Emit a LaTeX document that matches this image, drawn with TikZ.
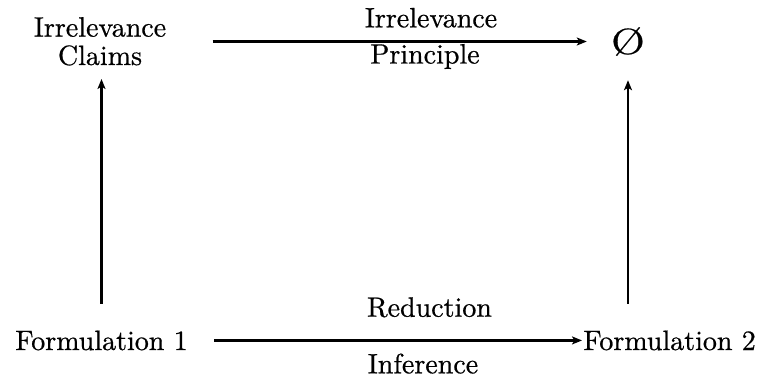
\documentclass[tikz,border=0pt]{standalone}
\usepackage{fontspec}
\usetikzlibrary{arrows.meta}

% Latin Modern with a slightly heavier stroke
\newfontfamily\heavyrm{lmroman10-regular.otf}[FakeBold=0.6]

\tikzset{
  txt/.style={inner sep=0pt, font=\heavyrm\fontsize{14}{14.2}\selectfont},
  arr/.style={-{Stealth[length=5pt,width=4pt,inset=1.2pt]}, line width=1.1pt},
}

\begin{document}
\begin{tikzpicture}[x=0.5pt, y=-0.5pt]
  \useasboundingbox (0,0) rectangle (773,376);

  % corner objects
  \node[txt, align=center, anchor=south] (claims) at (100,66) {Irrelevance\\Claims};
  \node[inner sep=0pt, font=\heavyrm\fontsize{18}{18}\selectfont] (empty) at (628,41.5)
    {\scalebox{1.2}[1]{\O}};
  \node[txt, anchor=base] (f1) at (101.5,350) {Formulation 1};
  \node[txt, anchor=base west] (f2) at (583,350) {Formulation 2};

  % arrow labels
  \node[txt, anchor=base] (irr) at (431,27.3) {Irrelevance};
  \node[txt, anchor=base] (prin) at (425,63.5) {Principle};
  \node[txt, anchor=base] (red) at (429.5,316.7) {Reduction};
  \node[txt, anchor=base] (inf) at (423,373.3) {Inference};

  % connectors
  \draw[arr, shorten <=23pt, shorten >=12pt] (claims.east |- empty.west) -- (empty.west);
  \draw[arr, shorten <=13pt, shorten >=0.5pt] (f1.east) -- (f2.west);
  \draw[arr, shorten <=13.3pt, shorten >=6.5pt] (f1.north) -- (f1.north |- claims.south);
  \draw[arr, shorten <=13.3pt, shorten >=12pt] (empty.south |- f2.north) -- (empty.south);
\end{tikzpicture}
\end{document}
